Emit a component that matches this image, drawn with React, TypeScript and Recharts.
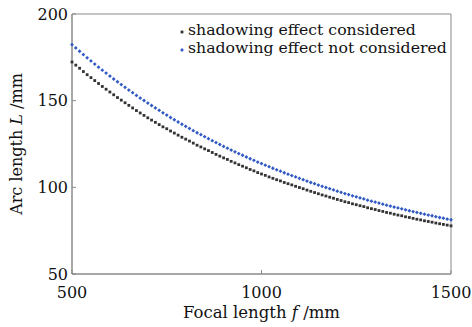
import { LineChart, Line, XAxis, YAxis, Legend, ReferenceArea, Label } from "recharts";

// focal length f (mm)
const focal = [
  500, 510, 520, 530, 540, 550, 560, 570, 580, 590,
  600, 610, 620, 630, 640, 650, 660, 670, 680, 690,
  700, 710, 720, 730, 740, 750, 760, 770, 780, 790,
  800, 810, 820, 830, 840, 850, 860, 870, 880, 890,
  900, 910, 920, 930, 940, 950, 960, 970, 980, 990,
  1000, 1010, 1020, 1030, 1040, 1050, 1060, 1070, 1080, 1090,
  1100, 1110, 1120, 1130, 1140, 1150, 1160, 1170, 1180, 1190,
  1200, 1210, 1220, 1230, 1240, 1250, 1260, 1270, 1280, 1290,
  1300, 1310, 1320, 1330, 1340, 1350, 1360, 1370, 1380, 1390,
  1400, 1410, 1420, 1430, 1440, 1450, 1460, 1470, 1480, 1490,
  1500,
];

// arc length L (mm), shadowing effect considered
const considered = [
  172.3, 170.5, 168.7, 166.8, 165.0, 163.3, 161.6, 159.9, 158.2, 156.6,
  155.0, 153.4, 151.8, 150.3, 148.8, 147.3, 145.8, 144.3, 142.9, 141.5,
  140.1, 138.8, 137.5, 136.2, 134.9, 133.8, 132.5, 131.3, 130.1, 128.9,
  127.8, 126.7, 125.5, 124.3, 123.3, 122.2, 121.2, 120.1, 119.0, 118.0,
  117.0, 116.1, 115.0, 114.1, 113.1, 112.2, 111.3, 110.3, 109.5, 108.5,
  107.7, 106.9, 106.0, 105.2, 104.4, 103.7, 102.8, 102.1, 101.4, 100.6,
  99.9, 99.2, 98.4, 97.7, 97.0, 96.3, 95.6, 95.0, 94.3, 93.7,
  93.0, 92.4, 91.7, 91.2, 90.5, 90.0, 89.4, 88.9, 88.2, 87.7,
  87.2, 86.6, 86.1, 85.5, 85.1, 84.5, 84.0, 83.6, 83.0, 82.6,
  82.1, 81.6, 81.2, 80.7, 80.3, 79.9, 79.4, 79.0, 78.6, 78.2,
  77.8,
];

// arc length L (mm), shadowing effect not considered
const notConsidered = [
  182.3, 180.4, 178.5, 176.6, 174.7, 172.9, 171.1, 169.3, 167.6, 165.9,
  164.2, 162.5, 160.9, 159.3, 157.7, 156.1, 154.6, 153.0, 151.5, 150.1,
  148.6, 147.2, 145.8, 144.4, 143.0, 141.7, 140.3, 139.0, 137.7, 136.4,
  135.2, 134.0, 132.7, 131.5, 130.4, 129.2, 128.1, 126.9, 125.8, 124.7,
  123.6, 122.6, 121.5, 120.5, 119.5, 118.5, 117.5, 116.5, 115.6, 114.6,
  113.7, 112.8, 111.9, 111.0, 110.1, 109.3, 108.4, 107.6, 106.8, 106.0,
  105.2, 104.4, 103.6, 102.8, 102.1, 101.3, 100.6, 99.9, 99.2, 98.5,
  97.8, 97.1, 96.4, 95.8, 95.1, 94.5, 93.9, 93.3, 92.6, 92.0,
  91.5, 90.9, 90.3, 89.7, 89.2, 88.6, 88.1, 87.6, 87.0, 86.5,
  86.0, 85.5, 85.0, 84.5, 84.0, 83.6, 83.1, 82.6, 82.2, 81.7,
  81.3,
];

const xTicks = [500, 1000, 1500];
const yTicks = [50, 100, 150, 200];

const data = focal.map((f, i) => ({ f, considered: considered[i], notConsidered: notConsidered[i] }));

const FONT = "'DejaVu Serif', serif";
const AXIS = "#8a8a8a";
const BLACK = "#333333";
const BLUE = "#3159c4";

const squareDot = (props: any) => {
  const { cx, cy, index } = props;
  return <rect key={`s${index}`} x={cx - 1.4} y={cy - 1.4} width={2.8} height={2.8} fill={BLACK} />;
};

const diamondDot = (props: any) => {
  const { cx, cy, index } = props;
  return (
    <path key={`d${index}`} d={`M${cx},${cy - 1.9}L${cx + 1.9},${cy}L${cx},${cy + 1.9}L${cx - 1.9},${cy}Z`} fill={BLUE} />
  );
};

const XTick = (props: any) => {
  const { x, y, payload } = props;
  return (
    <g>
      <line x1={x} x2={x} y1={y} y2={y - 4} stroke={AXIS} />
      <text x={x} y={y + 24} textAnchor="middle" fontFamily={FONT} fontSize={16} fill="#111">
        {payload.value}
      </text>
    </g>
  );
};

const YTick = (props: any) => {
  const { x, y, payload } = props;
  return (
    <g>
      <line x1={x} x2={x + 4} y1={y} y2={y} stroke={AXIS} />
      <text x={x - 4} y={y + 5.5} textAnchor="end" fontFamily={FONT} fontSize={16} fill="#111">
        {payload.value}
      </text>
    </g>
  );
};

const XTitle = (props: any) => {
  const { viewBox } = props;
  const cx = viewBox.x + viewBox.width / 2;
  return (
    <text x={cx} y={viewBox.y + 44} textAnchor="middle" fontFamily={FONT} fontSize={16.5} fill="#111">
      Focal length <tspan fontStyle="italic">f</tspan> /mm
    </text>
  );
};

const YTitle = (props: any) => {
  const { viewBox } = props;
  const cy = viewBox.y + viewBox.height / 2;
  const x = 22;
  return (
    <text x={x} y={cy} transform={`rotate(-90 ${x} ${cy})`} textAnchor="middle" fontFamily={FONT} fontSize={16} fill="#111">
      Arc length <tspan fontStyle="italic">L</tspan> /mm
    </text>
  );
};

const legendRows = [
  { label: "shadowing effect considered", color: BLACK, shape: "square" },
  { label: "shadowing effect not considered", color: BLUE, shape: "diamond" },
];

const LegendBox = () => (
  <div style={{ fontFamily: FONT, fontSize: 15.7, color: "#111", lineHeight: "18px" }}>
    {legendRows.map((r) => (
      <div key={r.label} style={{ display: "flex", alignItems: "center", whiteSpace: "nowrap" }}>
        <svg width={8} height={18} style={{ marginRight: 2 }}>
          {r.shape === "square" ? (
            <rect x={2.6} y={9.6} width={2.8} height={2.8} fill={r.color} />
          ) : (
            <path d="M4,9.1L5.9,11L4,12.9L2.1,11Z" fill={r.color} />
          )}
        </svg>
        <span>{r.label}</span>
      </div>
    ))}
  </div>
);

export default function App() {
  return (
    <div style={{ position: "absolute", left: 0, top: 0, width: 472, height: 327, background: "#fff" }}>
      <LineChart width={472} height={327} data={data} margin={{ top: 14, right: 21, left: 22, bottom: 0 }}>
        <XAxis
          dataKey="f"
          type="number"
          domain={[500, 1500]}
          ticks={xTicks}
          stroke={AXIS}
          tickSize={0}
          tickMargin={0}
          tick={<XTick />}
          height={53}
          interval={0}
        >
          <Label content={<XTitle />} />
        </XAxis>
        <YAxis
          type="number"
          domain={[50, 200]}
          ticks={yTicks}
          stroke={AXIS}
          tickSize={0}
          tickMargin={0}
          tick={<YTick />}
          width={50}
          interval={0}
        >
          <Label content={<YTitle />} />
        </YAxis>
        <ReferenceArea x1={500} x2={1500} y1={50} y2={200} fill="none" stroke={AXIS} strokeWidth={1} />
        <Line
          dataKey="considered"
          name="shadowing effect considered"
          stroke="none"
          dot={squareDot}
          activeDot={false}
          isAnimationActive={false}
        />
        <Line
          dataKey="notConsidered"
          name="shadowing effect not considered"
          stroke="none"
          dot={diamondDot}
          activeDot={false}
          isAnimationActive={false}
        />
        <Legend
          layout="vertical"
          align="center"
          verticalAlign="middle"
          content={<LegendBox />}
          wrapperStyle={{ top: 21, left: 178, right: "auto", bottom: "auto", width: "auto" }}
        />
      </LineChart>
    </div>
  );
}
